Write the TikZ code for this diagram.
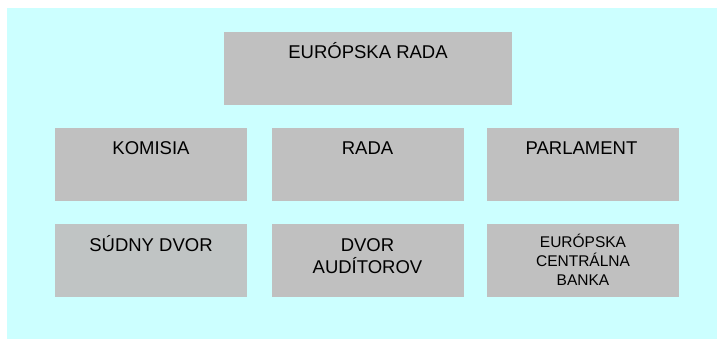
\documentclass[tikz,border=0pt]{standalone}
\usepackage{fontspec}
\setmainfont{Liberation Sans}
\definecolor{bgcyan}{HTML}{CCFFFF}
\definecolor{boxgray}{HTML}{C0C0C0}
\definecolor{boxgray2}{HTML}{C0C4C4}
\tikzset{
  orgbox/.style={fill=boxgray, draw=none, rectangle, inner sep=0pt, minimum width=192pt, minimum height=73pt},
  bigtxt/.style={inner sep=0pt, anchor=base, align=center, font=\fontsize{18.5}{22}\selectfont},
  smalltxt/.style={inner sep=0pt, anchor=base, align=center, font=\fontsize{15.5}{19}\selectfont}
}
\begin{document}
\begin{tikzpicture}[x=1pt,y=-1pt]
\useasboundingbox (0,0) rectangle (717,339);
\fill[bgcyan] (7,8) rectangle (717,339);
\node[orgbox, minimum width=288pt] (er) at (368,68.5) {};
\node[orgbox] (kom) at (151,164.5) {};
\node[orgbox] (rada) at (367.5,164.5) {};
\node[orgbox] (parl) at (583,164.5) {};
\node[orgbox, fill=boxgray2] (sd) at (151,260.5) {};
\node[orgbox] (da) at (367.5,260.5) {};
\node[orgbox] (ecb) at (583,260.5) {};
\node[bigtxt] (ert) at (368,59) {EURÓPSKA RADA};
\node[bigtxt] (komt) at (151,155) {KOMISIA};
\node[bigtxt] (radat) at (367.5,155) {RADA};
\node[bigtxt] (parlt) at (581.5,155) {PARLAMENT};
\node[bigtxt] (sdt) at (151,251.5) {SÚDNY DVOR};
\node[bigtxt] (dat) at (367.5,273) {DVOR\\AUDÍTOROV};
\node[smalltxt] (ecbt) at (583,285.5) {EURÓPSKA\\CENTRÁLNA\\BANKA};
\end{tikzpicture}
\end{document}
